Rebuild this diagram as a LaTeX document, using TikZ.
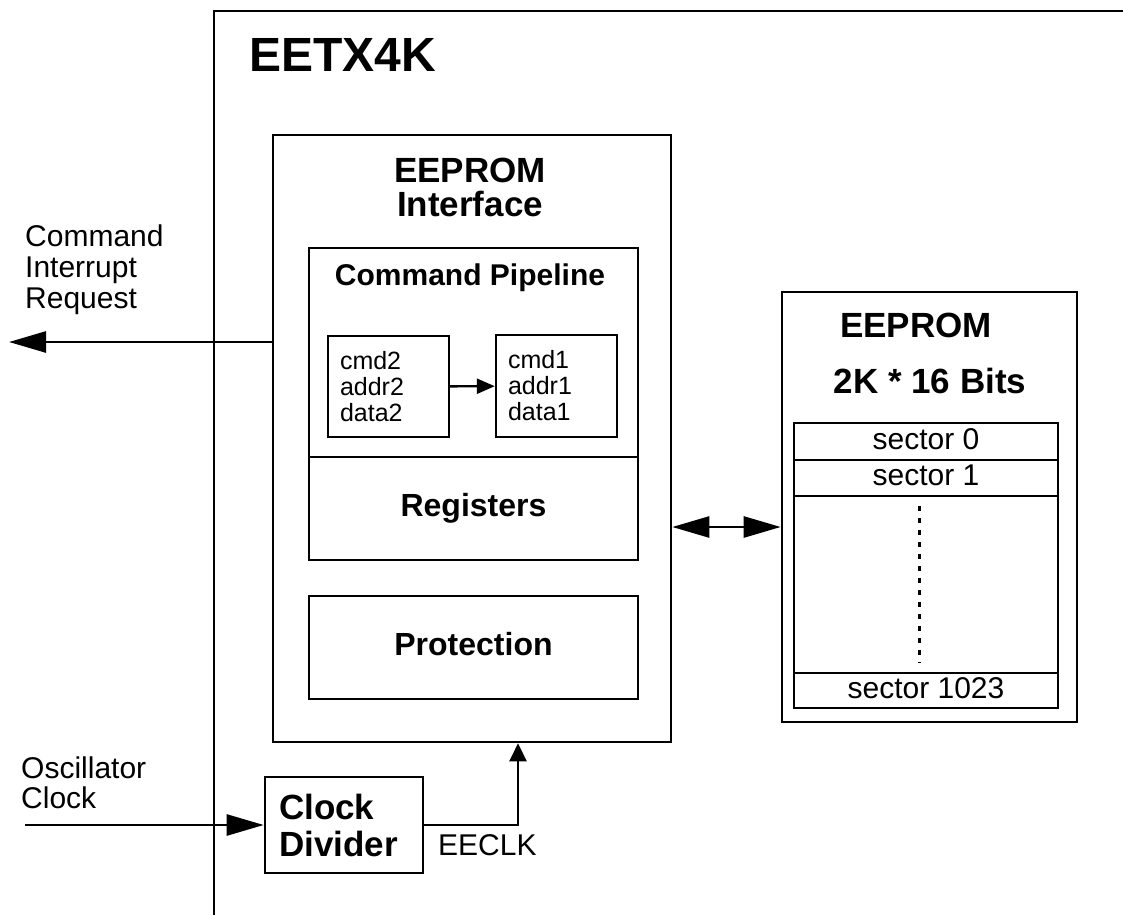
\documentclass[tikz,border=0pt]{standalone}
\usepackage{fontspec}
\setmainfont{Liberation Sans}
\usepackage{tikz}
\usetikzlibrary{arrows.meta,positioning,calc}
\tikzset{
  frm/.style={line width=2.6pt},
  pane/.style={rectangle,draw,line width=2.6pt,inner sep=0pt,
    font=\bfseries\fontsize{32}{32}\selectfont,text height=23pt,text depth=6.7pt},
  reg/.style={rectangle,draw,line width=2.4pt,inner sep=0pt,minimum width=121pt,
    text width=97pt,align=left,font=\fontsize{25}{26}\selectfont},
  cell/.style={rectangle,draw,line width=2.4pt,inner sep=0pt,minimum width=264pt,
    font=\fontsize{30}{30}\selectfont,text height=21.6pt,text depth=6.3pt},
  hdr/.style={inner sep=0pt,align=center,font=\bfseries\fontsize{35}{34}\selectfont},
  lbl/.style={inner sep=0pt,align=left,font=\fontsize{30}{31}\selectfont},
  bigarr/.style={line width=2.6pt,-{Triangle[length=37pt,width=21pt]}},
  dblarr/.style={line width=2.6pt,{Triangle[length=37pt,width=21pt]}-{Triangle[length=37pt,width=21pt]}},
  arr/.style={line width=2.6pt,-{Triangle[length=18pt,width=17pt]}},
  dots/.style={line width=3pt,dash pattern=on 5pt off 7pt}
}

\begin{document}
\begin{tikzpicture}[x=1pt,y=-1pt]
    \useasboundingbox (0,0) rectangle (1123,915);

    % chip outline
    \draw[frm] (1123,11) -- (214,11) -- (214,915);
    \node[anchor=base west,inner sep=0pt,font=\bfseries\fontsize{48}{48}\selectfont] (chip) at (249,72) {EETX4K};

    % EEPROM interface
    \node[pane,minimum width=398pt,minimum height=607pt] (iface) at (472,438.5) {};
    \node[hdr,anchor=north] (ifacettl) at (470,158) {EEPROM\\Interface};
    \node[pane,minimum width=329pt,minimum height=209pt] (pipe) at (473.5,352.5) {};
    \node[hdr,anchor=base,font=\bfseries\fontsize{30}{30}\selectfont] (pipettl) at (470,285) {Command Pipeline};
    \node[reg,minimum height=101pt] (cmdtwo) at (388.5,386.5) {cmd2\\addr2\\data2};
    \node[reg,minimum height=102pt] (cmdone) at (556.5,386) {cmd1\\addr1\\data1};
    \draw[line width=2.4pt,-{Triangle[length=18pt,width=15pt]}] (cmdtwo) -- (cmdone);
    \node[pane,minimum width=329pt,minimum height=103pt] (regs) at (473.5,508.5) {Registers};
    \node[pane,minimum width=329pt,minimum height=103pt] (prot) at (473.5,647.5) {Protection};

    % EEPROM array
    \node[pane,minimum width=295pt,minimum height=430pt] (mem) at (929.5,507) {};
    \node[hdr,anchor=base] (memttl) at (916,337) {EEPROM};
    \node[hdr,anchor=base] (memsize) at (930,393) {2K * 16 Bits};
    \node[cell,minimum height=37pt] (sec0) at (926,441.5) {sector 0};
    \node[cell,minimum height=36pt] (sec1) at (926,478) {sector 1};
    \node[cell,minimum height=177pt] (secgap) at (926,584.5) {};
    \node[cell,minimum height=35pt] (seclast) at (926,690.5) {sector 1023};
    \draw[dots] ($(secgap.north)+(-7,11)$) -- ($(secgap.south)+(-7,-11)$);

    % bus between interface and array
    \coordinate (bus) at (0,527);
    \draw[dblarr] (iface.east |- bus) -- (mem.west |- bus);

    % interrupt request
    \coordinate (irqout) at (9,342);
    \draw[bigarr] (irqout -| iface.west) -- (irqout);
    \node[lbl,anchor=north west] (irqlbl) at (25,225) {Command\\Interrupt\\Request};

    % clock
    \node[pane,minimum width=158pt,minimum height=96pt,text width=130pt,align=left,
      font=\bfseries\fontsize{35}{37}\selectfont,text height=,text depth=] (clkdiv) at (344,825) {Clock\\Divider};
    \coordinate (oscin) at (25,825);
    \draw[bigarr] (oscin) -- (clkdiv.west);
    \node[lbl,anchor=north west,font=\fontsize{30}{30}\selectfont] (osclbl) at (21,757) {Oscillator\\Clock};
    \draw[arr] (clkdiv.east) -| ([xshift=46pt]iface.south);
    \node[lbl,anchor=base west] (clklbl) at (438,855) {EECLK};

\end{tikzpicture}
\end{document}
